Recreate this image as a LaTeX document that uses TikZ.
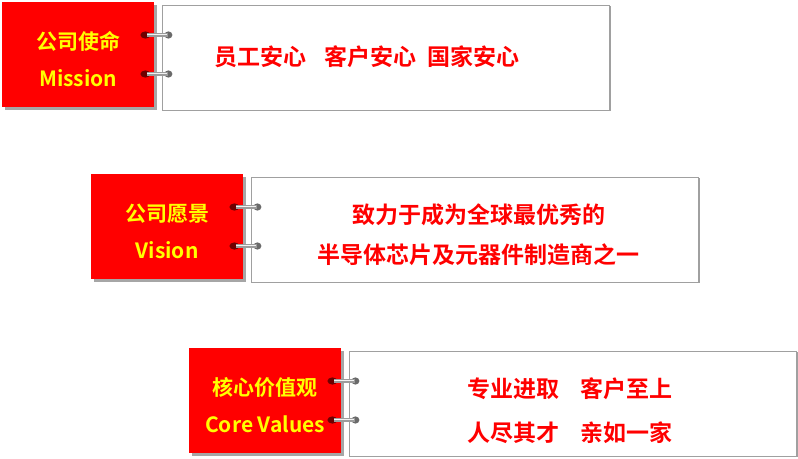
\documentclass[tikz,border=0pt]{standalone}
\usepackage{fontspec}
\setmainfont{Noto Sans CJK SC}[BoldFont={Noto Sans CJK SC Bold}]
\usetikzlibrary{positioning,calc,shadows}
\definecolor{tagred}{HTML}{FF0000}
\definecolor{tagyellow}{HTML}{FFFF00}
\definecolor{shadowgray}{HTML}{A6A6A6}
\definecolor{framegray}{HTML}{A0A0A0}
\definecolor{ringred}{HTML}{6E0000}
\definecolor{ringgray}{HTML}{9C9C9C}
\definecolor{ringend}{HTML}{6A6A6A}

\tikzset{
  tagbox/.style={fill=tagred, minimum width=152pt, minimum height=105pt, inner sep=0pt,
    anchor=north west, drop shadow={fill=shadowgray, opacity=1, shadow xshift=3pt, shadow yshift=-3pt}},
  pagebox/.style={fill=white, draw=framegray, line width=0.9pt, minimum width=447pt, minimum height=105pt,
    inner sep=0pt, anchor=north west, drop shadow={fill=framegray, opacity=1, shadow xshift=1.2pt, shadow yshift=-1.2pt}},
  tagtext/.style={text=tagyellow, font=\fontsize{21pt}{21pt}\selectfont\bfseries, inner sep=0pt, anchor=base},
  pagetext/.style={text=tagred, font=\fontsize{23pt}{23pt}\selectfont\bfseries, inner sep=0pt, anchor=base},
}

\begin{document}
\begin{tikzpicture}[x=1pt,y=-1pt]
  \useasboundingbox (0,0) rectangle (798,458);
  % red tabs and the pages hooked onto them
  \foreach \n/\px/\py/\title/\eng in {1/2/2/公司使命/Mission,2/91/174/公司愿景/Vision,3/189/348/核心价值观/Core Values} {
    \node[tagbox] (red\n) at (\px,\py) {};
    \node[pagebox] (page\n) at ($(red\n.north east)+(8,2.5)$) {};
    \node[tagtext] (title\n) at ($(red\n.north)+(0,47)$) {\title};
    \node[tagtext] (eng\n) at ($(red\n.north)+(0,84)$) {\eng};
    % two rings per tab
    \foreach \dy in {33,72} {
      \coordinate (ring) at ($(red\n.north east)+(-9,\dy)$);
      \fill[ringred] (ring) ellipse [x radius=5pt, y radius=3.6pt];
      \fill[ringend] ($(ring)+(23,0)$) ellipse [x radius=4pt, y radius=3.6pt];
      \draw[ringgray, line width=4.6pt] ($(ring)+(2,0)$) -- ++(21,0);
      \draw[white!90!gray, line width=1.6pt] ($(ring)+(2,-0.6)$) -- ++(20,0);
    }
  }
  % texts on the pages
  \node[pagetext] (line1) at ($(page1.north)+(-19,61)$) {员工安心\hspace{18pt}客户安心\hspace{11pt}国家安心};
  \node[pagetext] (line2) at ($(page2.north)+(3.5,46.5)$) {致力于成为全球最优秀的};
  \node[pagetext] (line3) at ($(page2.north)+(3.5,86.5)$) {半导体芯片及元器件制造商之一};
  \node[pagetext] (line4) at ($(page3.north)+(-3,46.5)$) {专业进取\hspace{21pt}客户至上};
  \node[pagetext] (line5) at ($(page3.north)+(-3,90.5)$) {人尽其才\hspace{21pt}亲如一家};
\end{tikzpicture}
\end{document}
